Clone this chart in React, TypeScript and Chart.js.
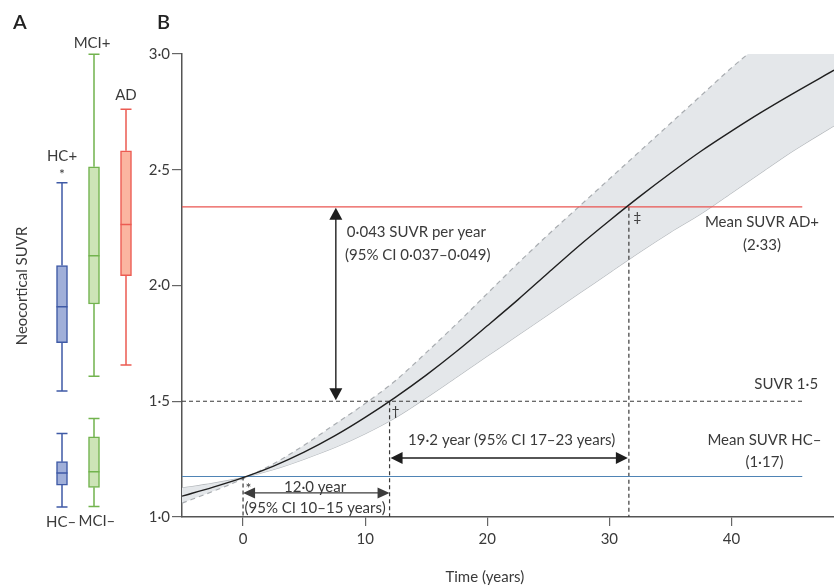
import React, { useEffect, useRef } from 'react';
import { Chart, registerables } from 'chart.js';

Chart.register(...registerables);

// ---------- Panel B data ----------
const timeYears = [-5, -2.5, 0, 2.5, 5, 7.5, 10, 12.5, 15, 17.5, 20, 22.5, 25, 27.5, 30, 32.5, 35, 37.5, 40, 42.5, 45, 48.4];
const meanSuvr = [1.09, 1.128, 1.17, 1.22, 1.28, 1.35, 1.43, 1.518, 1.613, 1.716, 1.826, 1.938, 2.055, 2.171, 2.28, 2.385, 2.485, 2.58, 2.667, 2.75, 2.828, 2.93];
const upperCI = [1.06, 1.11, 1.165, 1.23, 1.31, 1.4, 1.49, 1.59, 1.71, 1.835, 1.965, 2.095, 2.22, 2.34, 2.46, 2.58, 2.7, 2.82, 2.94, 3.05, 3.16, 3.3];
const lowerCI = [1.125, 1.145, 1.17, 1.205, 1.25, 1.3, 1.36, 1.43, 1.515, 1.605, 1.695, 1.785, 1.875, 1.965, 2.055, 2.145, 2.23, 2.31, 2.4, 2.49, 2.58, 2.69];
const xTicks = [0, 10, 20, 30, 40];
const yTicks = [1.0, 1.5, 2.0, 2.5, 3.0];
const xRange = [-5, 48.4];
const yRange = [1.0, 3.0];
const adMean = 2.34;
const hcMean = 1.175;
const threshold = 1.5;
const refLineEnd = 45.8;
const tHcMean = 0;
const tThreshold = 12;
const tAdMean = 31.6;
const rateArrowT = 7.6;

// ---------- Panel A data ----------
const boxGroups = ['HC+', 'MCI+', 'AD', 'HC–', 'MCI–'];
const boxPos = [1, 2, 3, 1, 2];
const whiskerLow = [1.544, 1.608, 1.657, 1.043, 1.045];
const q1 = [1.753, 1.92, 2.042, 1.138, 1.128];
const median = [1.908, 2.129, 2.263, 1.19, 1.196];
const q3 = [2.086, 2.513, 2.582, 1.239, 1.346];
const whiskerHigh = [2.444, 2.999, 2.761, 1.361, 1.426];

const boxStroke = ['#3f5aa6', '#72b34e', '#ec5b52', '#3f5aa6', '#72b34e'];
const boxFill = ['#a0afd9', '#cde4b7', '#fbb5a0', '#a0afd9', '#cde4b7'];

const FONT = 'Lato, "Open Sans", sans-serif';
const TEXT = '#3a3a3a';
const W = 834;
const H = 587;

const fmt = (v: number) => v.toFixed(1).replace('.', '·');

function arrowHead(ctx: CanvasRenderingContext2D, tx: number, ty: number, dx: number, dy: number, len: number, half: number) {
  const bx = tx - dx * len;
  const by = ty - dy * len;
  const px = -dy;
  const py = dx;
  ctx.beginPath();
  ctx.moveTo(tx, ty);
  ctx.lineTo(bx + px * half, by + py * half);
  ctx.lineTo(bx - px * half, by - py * half);
  ctx.closePath();
  ctx.fill();
}

function text(ctx: CanvasRenderingContext2D, s: string, x: number, y: number, align: CanvasTextAlign = 'center', size = 15) {
  ctx.font = `${size}px ${FONT}`;
  ctx.fillStyle = TEXT;
  ctx.textAlign = align;
  ctx.textBaseline = 'middle';
  ctx.fillText(s, x, y);
}

const pts = (ys: number[]) => timeYears.map((t, i) => ({ x: t, y: ys[i] }));
const hline = (y: number) => [{ x: xRange[0], y }, { x: refLineEnd, y }];
const vline = (x: number, yTop: number) => [{ x, y: yTop }, { x, y: yRange[0] }];

const annotationsB = {
  id: 'annotationsB',
  afterDatasetsDraw(chart: any) {
    const { ctx, scales } = chart;
    const xs = scales.x;
    const ys = scales.y;
    const X = (v: number) => xs.getPixelForValue(v);
    const Y = (v: number) => ys.getPixelForValue(v);
    ctx.save();

    // vertical rate arrow
    ctx.strokeStyle = '#1e1e1e';
    ctx.fillStyle = '#1e1e1e';
    ctx.lineWidth = 1.4;
    const ax = X(rateArrowT);
    ctx.beginPath();
    ctx.moveTo(ax, Y(adMean) + 10);
    ctx.lineTo(ax, Y(threshold) - 10);
    ctx.stroke();
    arrowHead(ctx, ax, Y(adMean) + 1, 0, -1, 12, 6.5);
    arrowHead(ctx, ax, Y(threshold) - 1, 0, 1, 12, 6.5);

    // 12.0 year arrow
    ctx.strokeStyle = '#3c3c3c';
    ctx.fillStyle = '#3c3c3c';
    const y1 = Y(1.104);
    ctx.beginPath();
    ctx.moveTo(X(tHcMean) + 8, y1);
    ctx.lineTo(X(tThreshold) - 8, y1);
    ctx.stroke();
    arrowHead(ctx, X(tHcMean), y1, -1, 0, 12, 5.5);
    arrowHead(ctx, X(tThreshold), y1, 1, 0, 12, 5.5);

    // 19.2 year arrow
    ctx.strokeStyle = '#1e1e1e';
    ctx.fillStyle = '#1e1e1e';
    const y2 = Y(1.255);
    ctx.beginPath();
    ctx.moveTo(X(tThreshold) + 8, y2);
    ctx.lineTo(X(tAdMean) - 8, y2);
    ctx.stroke();
    arrowHead(ctx, X(tThreshold) + 1, y2, -1, 0, 12, 6);
    arrowHead(ctx, X(tAdMean) - 1, y2, 1, 0, 12, 6);

    // texts
    text(ctx, '0·043 SUVR per year', X(8.5), Y(2.23), 'left');
    text(ctx, '(95% CI 0·037–0·049)', X(8.35), Y(2.13), 'left');
    text(ctx, '12·0 year', X(5.9), Y(1.13));
    text(ctx, '(95% CI 10–15 years)', X(5.9), Y(1.04));
    text(ctx, '19·2 year (95% CI 17–23 years)', X(22), Y(1.33));
    text(ctx, 'Mean SUVR AD+', X(42.5), Y(2.275));
    text(ctx, '(2·33)', X(42.5), Y(2.175));
    text(ctx, 'SUVR 1·5', X(47.1), Y(1.575), 'right');
    text(ctx, 'Mean SUVR HC–', X(42.7), Y(1.333));
    text(ctx, '(1·17)', X(42.7), Y(1.237));
    text(ctx, '*', X(0.45), Y(1.125), 'center', 14);
    text(ctx, '†', X(12.5), Y(1.457), 'center', 14);
    text(ctx, '‡', X(32.3), Y(2.295), 'center', 14);

    // axis title and panel letter
    text(ctx, 'Time (years)', X(19.8), 577, 'center', 15);
    ctx.font = `600 20px ${FONT}`;
    ctx.fillStyle = '#222';
    ctx.textAlign = 'left';
    ctx.fillText('B', 157, 23);
    ctx.restore();
  },
};

const boxPlugin = {
  id: 'boxPlugin',
  afterDatasetsDraw(chart: any) {
    const { ctx, scales } = chart;
    const X = (v: number) => scales.x.getPixelForValue(v);
    const Y = (v: number) => scales.y.getPixelForValue(v);
    ctx.save();
    boxGroups.forEach((g, i) => {
      const cx = X(boxPos[i]);
      ctx.strokeStyle = boxStroke[i];
      ctx.lineWidth = 1.5;
      ctx.beginPath();
      ctx.moveTo(cx, Y(q3[i]));
      ctx.lineTo(cx, Y(whiskerHigh[i]));
      ctx.moveTo(cx - 5.5, Y(whiskerHigh[i]));
      ctx.lineTo(cx + 5.5, Y(whiskerHigh[i]));
      ctx.moveTo(cx, Y(q1[i]));
      ctx.lineTo(cx, Y(whiskerLow[i]));
      ctx.moveTo(cx - 5.5, Y(whiskerLow[i]));
      ctx.lineTo(cx + 5.5, Y(whiskerLow[i]));
      ctx.moveTo(cx - 5.5, Y(median[i]));
      ctx.lineTo(cx + 5.5, Y(median[i]));
      ctx.stroke();
    });
    const lab = (s: string, x: number, y: number, size = 15) => text(ctx, s, x, y, 'center', size);
    lab('HC+', X(1), Y(whiskerHigh[0]) - 27);
    lab('*', X(1), Y(whiskerHigh[0]) - 8, 14);
    lab('MCI+', X(1.94), Y(whiskerHigh[1]) - 11);
    lab('AD', X(3), Y(whiskerHigh[2]) - 14);
    lab('HC–', X(0.97), Y(whiskerLow[3]) + 15);
    lab('MCI–', X(2.09), Y(whiskerLow[4]) + 15);

    ctx.font = `600 20px ${FONT}`;
    ctx.fillStyle = '#222';
    ctx.textAlign = 'left';
    ctx.textBaseline = 'middle';
    ctx.fillText('A', 13, 23);

    ctx.translate(22, 286);
    ctx.rotate(-Math.PI / 2);
    text(ctx, 'Neocortical SUVR', 0, 0, 'center', 15);
    ctx.restore();
  },
};

export default function App() {
  const refA = useRef<HTMLCanvasElement>(null);
  const refB = useRef<HTMLCanvasElement>(null);

  useEffect(() => {
    const dashed = [4, 3];
    const lineDefaults = { pointRadius: 0, fill: false, tension: 0 };
    const chartB = new Chart(refB.current!, {
      type: 'line',
      data: {
        datasets: [
          { ...lineDefaults, data: pts(meanSuvr), borderColor: '#1f1f1f', borderWidth: 1.4, cubicInterpolationMode: 'monotone' } as any,
          { ...lineDefaults, data: hline(adMean), borderColor: '#ea5550', borderWidth: 1.2 },
          { ...lineDefaults, data: hline(hcMean), borderColor: '#4f84b5', borderWidth: 1.2 },
          { ...lineDefaults, data: hline(threshold), borderColor: '#3a3a3a', borderWidth: 1.2, borderDash: dashed },
          { ...lineDefaults, data: vline(tHcMean, hcMean), borderColor: '#3a3a3a', borderWidth: 1.2, borderDash: dashed },
          { ...lineDefaults, data: vline(tThreshold, threshold), borderColor: '#3a3a3a', borderWidth: 1.2, borderDash: dashed },
          { ...lineDefaults, data: vline(tAdMean, adMean), borderColor: '#3a3a3a', borderWidth: 1.2, borderDash: dashed },
          { ...lineDefaults, data: pts(upperCI), borderColor: '#a9adb1', borderWidth: 1.2, borderDash: [5, 4], fill: '+1', backgroundColor: '#e4e7ea', cubicInterpolationMode: 'monotone' } as any,
          { ...lineDefaults, data: pts(lowerCI), borderColor: '#b4b8bc', borderWidth: 1.2, cubicInterpolationMode: 'monotone' } as any,
        ],
      },
      options: {
        animation: false,
        responsive: false,
        maintainAspectRatio: false,
        layout: { padding: { top: 54, left: 0, right: 0, bottom: 0 } },
        plugins: { legend: { display: false }, tooltip: { enabled: false } },
        scales: {
          x: {
            type: 'linear',
            min: xRange[0],
            max: xRange[1],
            afterBuildTicks: (s: any) => { s.ticks = xTicks.map((v) => ({ value: v })); },
            afterFit: (s: any) => { s.height = H - 517; },
            grid: { drawOnChartArea: false, drawTicks: true, tickLength: 9, color: '#666', lineWidth: 1.2 },
            border: { display: true, color: '#555', width: 1.5 },
            ticks: { color: TEXT, font: { family: FONT, size: 15 }, padding: 4, callback: (v: any) => String(v) },
          },
          y: {
            type: 'linear',
            min: yRange[0],
            max: yRange[1],
            afterBuildTicks: (s: any) => { s.ticks = yTicks.map((v) => ({ value: v })); },
            afterFit: (s: any) => { s.width = 182; },
            grid: { drawOnChartArea: false, drawTicks: true, tickLength: 10, color: '#666', lineWidth: 1.2 },
            border: { display: true, color: '#555', width: 1.5 },
            ticks: { color: TEXT, font: { family: FONT, size: 15 }, padding: 2, callback: (v: any) => fmt(Number(v)) },
          },
        },
      },
      plugins: [annotationsB],
    });

    const WA = 165;
    const chartA = new Chart(refA.current!, {
      type: 'bar',
      data: {
        datasets: boxGroups.map((g, i) => ({
          label: g,
          data: [{ x: boxPos[i], y: [q1[i], q3[i]] }],
          backgroundColor: boxFill[i],
          borderColor: boxStroke[i],
          borderWidth: 1.5,
          borderSkipped: false,
          barThickness: 11,
          grouped: false,
        })) as any,
      },
      options: {
        animation: false,
        responsive: false,
        maintainAspectRatio: false,
        layout: { padding: { left: 30, right: WA - 158, top: 54, bottom: H - 517 } },
        plugins: { legend: { display: false }, tooltip: { enabled: false } },
        scales: {
          x: { type: 'linear', min: 0, max: 4, offset: false, display: false },
          y: { type: 'linear', min: yRange[0], max: yRange[1], display: false },
        },
      },
      plugins: [boxPlugin],
    });

    return () => {
      chartA.destroy();
      chartB.destroy();
    };
  }, []);

  return (
    <div style={{ position: 'fixed', left: 0, top: 0, width: W, height: H, background: '#fff' }}>
      <canvas ref={refB} width={W} height={H} style={{ position: 'absolute', left: 0, top: 0, width: W, height: H }} />
      <canvas ref={refA} width={165} height={H} style={{ position: 'absolute', left: 0, top: 0, width: 165, height: H }} />
    </div>
  );
}
